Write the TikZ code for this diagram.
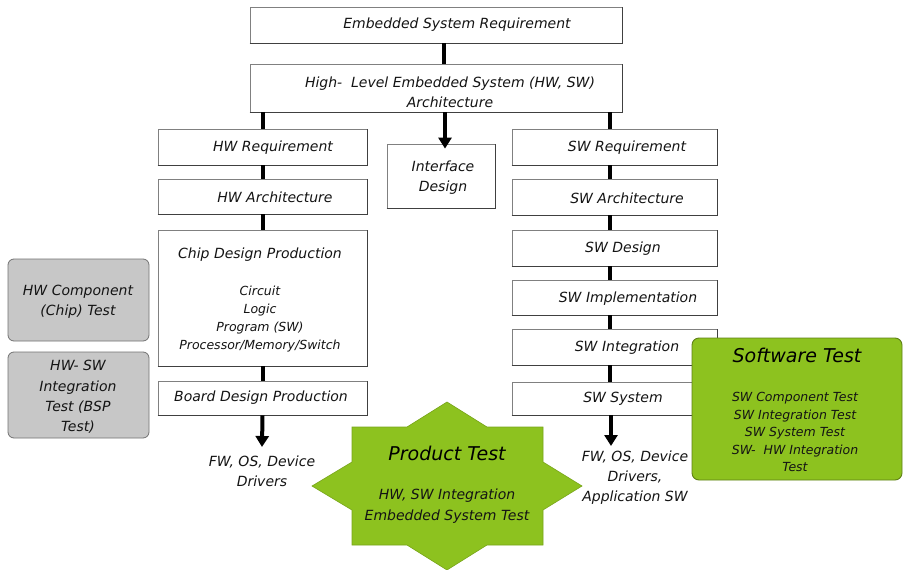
\documentclass[tikz,border=0pt]{standalone}
\usepackage{fontspec}
\setmainfont{DejaVu Sans}
\usetikzlibrary{arrows.meta}
\definecolor{lime}{RGB}{141,194,31}
\definecolor{limedark}{RGB}{95,128,22}
\begin{document}
\begin{tikzpicture}[x=1pt,y=-1pt,
  box/.style={draw=black!50, line width=0.8pt, fill=white, inner sep=0pt},
  gbox/.style={draw=black!55, line width=0.8pt, fill=black!22, rounded corners=6pt, inner sep=0pt},
  txt/.style={font=\fontsize{14}{20}\selectfont\itshape, align=center, inner sep=1pt, text=black!92},
  small/.style={font=\fontsize{12.5}{18}\selectfont\itshape, align=center, inner sep=1pt, text=black!92},
  ttl/.style={font=\fontsize{19}{22}\selectfont\itshape, inner sep=1pt, text=black},
  conn/.style={line width=4pt, black},
  arr/.style={line width=4pt, black, -{Triangle[width=13pt,length=11pt]}},
  edge3d/.style={black!75, line width=1.3pt},
]
\useasboundingbox[fill=white] (0,0) rectangle (910,570);

% top boxes
\node[box, minimum width=372pt, minimum height=36pt] (esr) at (436,25) {};
\node[box, minimum width=372pt, minimum height=48pt] (hla) at (436,88) {};
% HW column
\node[box, minimum width=209pt, minimum height=36pt] (hwreq) at (262.5,147) {};
\node[box, minimum width=209pt, minimum height=35pt] (hwarch) at (262.5,196.5) {};
\node[box, minimum width=209pt, minimum height=136pt] (chip) at (262.5,298) {};
\node[box, minimum width=209pt, minimum height=34pt] (board) at (262.5,398) {};
% interface
\node[box, minimum width=108pt, minimum height=64pt] (iface) at (441,176) {};
% SW column
\node[box, minimum width=205pt, minimum height=36pt] (swreq) at (614.5,147) {};
\node[box, minimum width=205pt, minimum height=36pt] (swarch) at (614.5,197) {};
\node[box, minimum width=205pt, minimum height=36pt] (swdes) at (614.5,248) {};
\node[box, minimum width=205pt, minimum height=35pt] (swimpl) at (614.5,297.5) {};
\node[box, minimum width=205pt, minimum height=36pt] (swint) at (614.5,347) {};
\node[box, minimum width=205pt, minimum height=33pt] (swsys) at (614.5,398.5) {};
% darker bottom/right edges of the boxes
\foreach \n in {esr,hla,hwreq,hwarch,chip,board,iface,swreq,swarch,swdes,swimpl,swint,swsys}
  \draw[edge3d] (\n.south west) -- (\n.south east) -- (\n.north east);
% gray test boxes
\node[gbox, minimum width=141pt, minimum height=82pt] (hwcomp) at (78.5,300) {};
\node[gbox, minimum width=141pt, minimum height=86pt] (hwsw) at (78.5,395) {};

% connectors
\draw[conn] ([xshift=8pt]esr.south) -- ([xshift=8pt]hla.north);
\draw[conn] (hla.south -| hwreq.north) -- (hwreq.north);
\draw[conn] (hwreq.south) -- (hwarch.north);
\draw[conn] (hwarch.south) -- (chip.north);
\draw[conn] (chip.south) -- (board.north);
\draw[conn] ([xshift=-4.5pt]swreq.north |- hla.south) -- ([xshift=-4.5pt]swreq.north);
\draw[conn] ([xshift=-4.5pt]swreq.south) -- ([xshift=-4.5pt]swarch.north);
\draw[conn] ([xshift=-4.5pt]swarch.south) -- ([xshift=-4.5pt]swdes.north);
\draw[conn] ([xshift=-4.5pt]swdes.south) -- ([xshift=-4.5pt]swimpl.north);
\draw[conn] ([xshift=-4.5pt]swimpl.south) -- ([xshift=-4.5pt]swint.north);
\draw[conn] ([xshift=-4.5pt]swint.south) -- ([xshift=-4.5pt]swsys.north);
\draw[arr] ([xshift=4pt]iface.north |- hla.south) -- ([xshift=4pt,yshift=-5pt]iface.north);

% outputs
\node[txt] (hwfw) at (262,471) {FW, OS, Device\\Drivers};
\node[txt] (swfw) at (635,478) {FW, OS, Device\\Drivers,\\Application SW};
\coordinate (hwtip) at (262,447);
\coordinate (swtip) at (611,446);
\draw[arr] (board.south) -- (hwtip);
\draw[arr] ([xshift=-3.5pt]swsys.south) -- (swtip);

% software test box
\node[draw=limedark, line width=0.9pt, fill=lime, rounded corners=7pt, minimum width=210pt, minimum height=142pt, inner sep=0pt] (swtest) at (797,409) {};

% product test star
\draw[fill=lime, draw=lime!85!black, line width=0.6pt]
  (447,402) -- (487,427) -- (543,427) -- (543,462) -- (582,486) -- (543,510)
  -- (543,545) -- (487,545) -- (447,570) -- (407,545) -- (352,545) -- (352,510)
  -- (312,486) -- (352,462) -- (352,427) -- (407,427) -- cycle;
\coordinate (star) at (447,486);

% texts
\node[txt] at (457,25) {Embedded System Requirement};
\node[txt] at (450,92) {High-~ Level Embedded System (HW, SW)\\Architecture};
\node[txt] at (273,148) {HW Requirement};
\node[txt] at (275,197) {HW Architecture};
\node[txt] at (260,255) {Chip Design Production};
\node[small] at (260,319) {Circuit\\Logic\\Program (SW)\\Processor/Memory/Switch};
\node[txt] at (261,398) {Board Design Production};
\node[txt] at (443,178) {Interface\\Design};
\node[txt] at (627,148) {SW Requirement};
\node[txt] at (627,198) {SW Architecture};
\node[txt] at (623,249) {SW Design};
\node[txt] at (628,299) {SW Implementation};
\node[txt] at (627,348) {SW Integration};
\node[txt] at (623,399) {SW System};
\node[txt] at (78,302) {HW Component\\(Chip) Test};
\node[txt, font=\fontsize{14}{20.3}\selectfont\itshape] at (78,397) {HW- SW\\Integration\\Test (BSP\\Test)};
\node[ttl] at (797,355) {Software Test};
\node[small, font=\fontsize{12.5}{17.5}\selectfont\itshape] at (795,432) {SW Component Test\\SW Integration Test\\SW System Test\\SW-~ HW Integration\\Test};
\node[ttl] at (447,453) {Product Test};
\node[txt, font=\fontsize{14}{21}\selectfont\itshape] at (447,506) {HW, SW Integration\\Embedded System Test};
\end{tikzpicture}
\end{document}
